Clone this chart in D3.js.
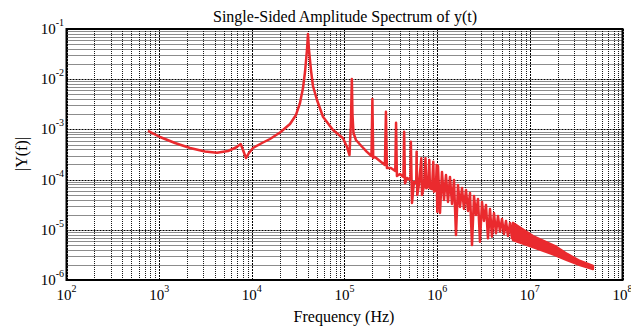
<!DOCTYPE html>
<html><head><meta charset="utf-8">
<script src="https://cdn.jsdelivr.net/npm/d3@7"></script>
<style>body{margin:0;background:#fff}</style>
</head><body><svg id="c" width="631" height="327"></svg>
<script>
const titleText = "Single-Sided Amplitude Spectrum of y(t)";
const xLabelText = "Frequency (Hz)";
const yLabelText = "|Y(f)|";
const xDomain = [1e2, 1e8];
const yDomain = [1e-6, 1e-1];
const xTickExps = [2, 3, 4, 5, 6, 7, 8];
const yTickExps = [-6, -5, -4, -3, -2, -1];

const freqHz = [
  777, 1020, 1482, 2152, 3124, 4207, 5530, 6745, 7585, 8030, 8650, 9310, 10290, 12880, 15700, 20140,
  25820, 29960, 33100, 35650, 37480, 39370, 40360, 41380, 43470, 45670, 50470, 58600, 75100, 96400,
  106400, 113300, 117500, 120000, 122000, 125000, 133000, 152000, 173500, 195500, 200000, 204000, 213000,
  241000, 273000, 280000, 287000, 317000, 353000, 360000, 368000, 397000, 433000, 440000, 450000, 472000,
  515000, 520000, 535000, 562000, 594000, 600000, 610000, 637000, 674000, 686000, 721000, 748000, 763000,
  796000, 822000, 836000, 879000, 908000, 925000, 967000, 988000, 1002000,
  1020600, 1072600, 1127000, 1185000, 1245000, 1309000, 1375000, 1445000, 1519000, 1596000,
  1678000, 1763000, 1853000, 1948000, 2046000, 2151000, 2261000, 2376000, 2497000, 2624000,
  2758000, 2898000, 3046000, 3201000, 3364000, 3535000, 3715000, 3904000, 4103000, 4312000,
  4532000, 4763000, 5005000, 5260000, 5528000, 5810000, 6106000, 6417000
];
const amplitude = [
  9.16e-4, 7.06e-4, 5.36e-4, 4.26e-4, 3.63e-4, 3.43e-4, 3.71e-4, 4.36e-4, 5.12e-4, 3.89e-4, 2.69e-4, 3.39e-4, 4.26e-4, 5.36e-4, 6.44e-4, 8.67e-4,
  1.28e-3, 1.94e-3, 3.36e-3, 6.68e-3, 1.39e-2, 3.82e-2, 7.95e-2, 3.82e-2, 1.52e-2, 7.32e-3, 3.85e-3, 1.79e-3, 9.73e-4, 6.65e-4,
  4.46e-4, 3.09e-4, 1.54e-3, 1.01e-2, 1.94e-3, 8.48e-4, 6.15e-4, 4.67e-4, 3.60e-4, 2.95e-4, 4.04e-3, 2.69e-4, 2.82e-4,
  2.35e-4, 1.95e-4, 2.25e-3, 1.70e-4, 1.70e-4, 1.48e-4, 1.36e-3, 1.18e-4, 1.29e-4, 1.13e-4, 8.99e-4, 8.44e-5, 1.08e-4,
  9.82e-5, 5.69e-4, 3.42e-5, 8.96e-5, 8.56e-5, 3.60e-4, 4.93e-5, 8.17e-5, 2.66e-4, 4.93e-5, 7.46e-5, 2.66e-4, 6.71e-5,
  7.12e-5, 2.46e-4, 6.71e-5, 6.50e-5, 2.27e-4, 5.74e-5, 6.21e-5, 1.95e-4, 2.30e-5,
  1.87e-4, 2.16e-5, 1.42e-4, 3.92e-5, 1.23e-4, 3.58e-5, 1.13e-4, 3.27e-5, 9.82e-5, 7.88e-6,
  7.80e-5, 2.85e-5, 6.80e-5, 2.60e-5, 6.21e-5, 2.37e-5, 5.41e-5, 4.98e-6, 4.71e-5, 1.97e-5,
  4.11e-5, 5.79e-6, 3.58e-5, 1.50e-5, 3.12e-5, 6.77e-6, 2.60e-5, 7.29e-6, 2.16e-5, 8.51e-6,
  1.88e-5, 9.17e-6, 1.64e-5, 8.25e-6, 1.50e-5, 7.52e-6, 1.36e-5, 6.87e-6
];
// dense-oscillation tail: upper / lower envelope of the trace
const tailFreqHz = [6.58e6, 1.08e7, 1.87e7, 2.52e7, 3.48e7, 4.80e7];
const tailUpper  = [1.36e-5, 7.52e-6, 4.75e-6, 3.30e-6, 2.39e-6, 1.90e-6];
const tailLower  = [6.27e-6, 4.54e-6, 3.15e-6, 2.50e-6, 1.99e-6, 1.66e-6];

const W = 631, H = 327;
const m = {left: 66.5, top: 29, right: 631 - 622.5, bottom: 327 - 280};
const svg = d3.select("#c");
const x = d3.scaleLog().domain(xDomain).range([m.left, W - m.right]);
const y = d3.scaleLog().domain(yDomain).range([H - m.bottom, m.top]);
const red = "#ea2a2e";
const fontFam = "'Liberation Serif','Times New Roman',serif";

// grid
const g = svg.append("g");
const minorX = [], minorY = [];
for (let e = 2; e < 8; e++) for (let k = 2; k <= 9; k++) minorX.push(k * Math.pow(10, e));
for (let e = -6; e < -1; e++) for (let k = 2; k <= 9; k++) minorY.push(k * Math.pow(10, e));
const px = v => Math.round(v) + 0.5;
g.selectAll(".mx").data(minorX).join("line")
  .attr("x1", d => px(x(d))).attr("x2", d => px(x(d)))
  .attr("y1", m.top).attr("y2", H - m.bottom)
  .attr("stroke", "#000").attr("stroke-dasharray", "1,1").attr("stroke-opacity", 0.9);
g.selectAll(".my").data(minorY).join("line")
  .attr("y1", d => px(y(d))).attr("y2", d => px(y(d)))
  .attr("x1", m.left).attr("x2", W - m.right)
  .attr("stroke", "#000").attr("stroke-dasharray", "1,1").attr("stroke-opacity", 0.9);
g.selectAll(".Mx").data(xTickExps).join("line")
  .attr("x1", d => px(x(Math.pow(10, d)))).attr("x2", d => px(x(Math.pow(10, d))))
  .attr("y1", m.top).attr("y2", H - m.bottom)
  .attr("stroke", "#000").attr("stroke-dasharray", "2,1");
g.selectAll(".My").data(yTickExps).join("line")
  .attr("y1", d => px(y(Math.pow(10, d)))).attr("y2", d => px(y(Math.pow(10, d))))
  .attr("x1", m.left).attr("x2", W - m.right)
  .attr("stroke", "#000").attr("stroke-dasharray", "2,1");

// data
svg.append("clipPath").attr("id", "clip").append("rect")
  .attr("x", m.left).attr("y", m.top).attr("width", W - m.left - m.right).attr("height", H - m.top - m.bottom);
const pts = freqHz.map((f, i) => [f, amplitude[i]]);
const tail = tailFreqHz.map((f, i) => ({f, u: tailUpper[i], l: tailLower[i]}));
const dg = svg.append("g").attr("clip-path", "url(#clip)");
dg.append("path").datum(tail)
  .attr("d", d3.area().x(d => x(d.f)).y0(d => y(d.l)).y1(d => y(d.u)))
  .attr("fill", red).attr("stroke", red).attr("stroke-width", 2.5).attr("stroke-linejoin", "round");
dg.append("path").datum(pts.concat([[tailFreqHz[0], tailUpper[0]]]))
  .attr("d", d3.line().x(d => x(d[0])).y(d => y(d[1])))
  .attr("fill", "none").attr("stroke", red).attr("stroke-width", 2.5)
  .attr("stroke-linejoin", "round").attr("stroke-linecap", "round");

// axes box
svg.append("rect").attr("x", m.left).attr("y", m.top)
  .attr("width", W - m.left - m.right).attr("height", H - m.top - m.bottom)
  .attr("fill", "none").attr("stroke", "#000").attr("stroke-width", 2);

// tick labels
const xl = svg.append("g").attr("font-family", fontFam).attr("fill", "#000");
xTickExps.forEach(e => {
  const t = xl.append("text").attr("x", x(Math.pow(10, e))).attr("y", 300)
    .attr("text-anchor", "middle").attr("font-size", 15);
  t.append("tspan").text("10");
  t.append("tspan").attr("font-size", 10).attr("dy", -8).text(String(e));
});
yTickExps.forEach(e => {
  const t = xl.append("text").attr("x", 64).attr("y", y(Math.pow(10, e)) + 5)
    .attr("text-anchor", "end").attr("font-size", 15);
  t.append("tspan").text("10");
  t.append("tspan").attr("font-size", 10).attr("dy", -8).text(String(e));
});
// title and axis labels
svg.append("text").attr("x", 345).attr("y", 22).attr("text-anchor", "middle")
  .attr("font-family", fontFam).attr("font-size", 16).text(titleText);
svg.append("text").attr("x", 344).attr("y", 322).attr("text-anchor", "middle")
  .attr("font-family", fontFam).attr("font-size", 16).text(xLabelText);
svg.append("text").attr("transform", "translate(27,154) rotate(-90)").attr("text-anchor", "middle")
  .attr("font-family", fontFam).attr("font-size", 16).text(yLabelText);
</script></body></html>
